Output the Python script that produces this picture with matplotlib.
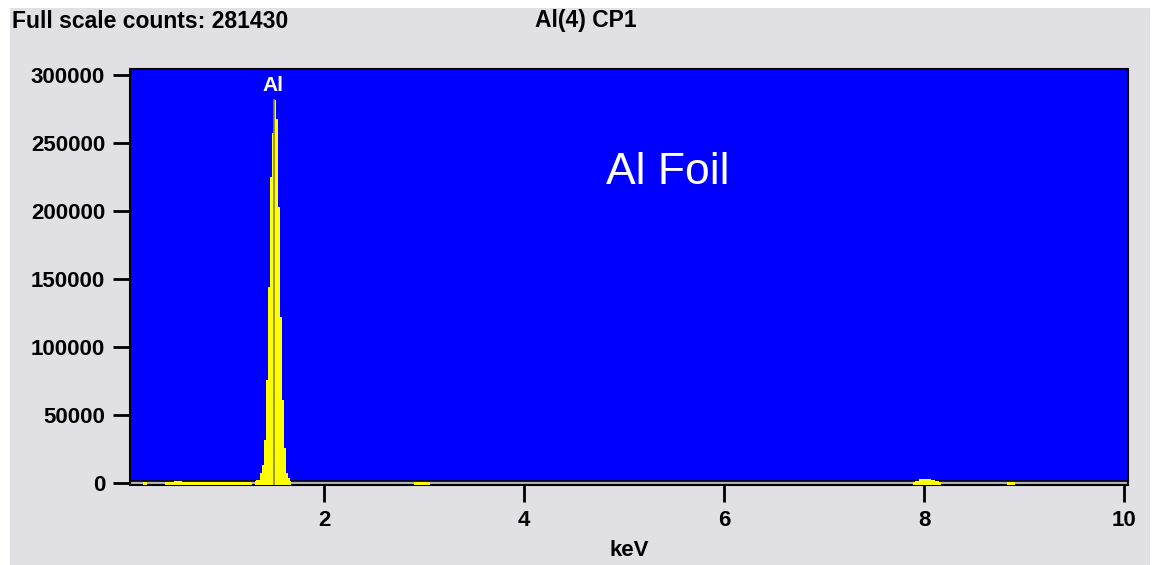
import matplotlib.pyplot as plt
import numpy as np
from matplotlib.patches import Rectangle

# spectrum segments (bin centres in keV, counts)
low_kev = [0.19, 0.21, 0.23]
low_counts = [400, 400, 400]

o_kev = [0.41, 0.45, 0.49, 0.51, 0.53, 0.55, 0.57, 0.59, 0.63, 0.7, 0.8, 0.9, 1.0, 1.1, 1.2, 1.28]
o_counts = [500, 500, 700, 1200, 1800, 1800, 1500, 900, 600, 500, 500, 500, 500, 500, 500, 600]

al_kev = [1.31, 1.33, 1.35, 1.37, 1.39, 1.41, 1.43, 1.45, 1.47, 1.49, 1.51, 1.53,
          1.55, 1.57, 1.59, 1.61, 1.63, 1.65, 1.67]
al_counts = [1500, 2200, 2200, 7400, 13000, 31600, 75700, 144000, 225000, 257000, 281430,
             268000, 203000, 122000, 61000, 26000, 7000, 4000, 1500]

ar_kev = [2.9, 2.94, 2.98, 3.02, 3.06]
ar_counts = [400, 400, 400, 400, 400]

cu_kev = [7.89, 7.93, 7.97, 8.01, 8.05, 8.09, 8.13, 8.17]
cu_counts = [800, 1500, 2800, 3200, 3000, 2400, 1200, 700]

cukb_kev = [8.83, 8.87, 8.91]
cukb_counts = [400, 400, 400]

full_scale = 281430
al_line = 1.495

font = 'Liberation Sans'
ymin = -1470
fig = plt.figure(figsize=(11.56, 5.65), dpi=100)
fig.patches.append(Rectangle((10/1156, 0), 1140/1156, 1 - 8/565, transform=fig.transFigure,
                             facecolor='#e0e0e5', edgecolor='none', zorder=-10))

ax = fig.add_axes([130/1156, 1 - 485/565, 998/1156, 416/565])
ax.set_facecolor('#0000ff')
ax.set_xlim(0.06, 10.04)
ax.set_ylim(ymin, 304400)

# grey baseline strip
ax.axhspan(ymin, 1470, color='#b4b4b4', zorder=1)
ax.axhline(1470, color='black', lw=1.2, zorder=2)

for kev, counts in [(low_kev, low_counts), (o_kev, o_counts), (al_kev, al_counts),
                    (ar_kev, ar_counts), (cu_kev, cu_counts), (cukb_kev, cukb_counts)]:
    ax.fill_between(kev, ymin, counts, step='mid', color='#ffff00', lw=0, zorder=3)

ax.plot([al_line, al_line], [ymin, full_scale], color='#8a8a10', lw=1.2, zorder=4)

ax.text(1.49, 285000, 'Al', color='white', fontsize=15, fontweight='bold', family=font,
        ha='center', va='bottom', zorder=5)
ax.text(5.44, 228500, 'Al Foil', color='white', fontsize=32, family=font,
        ha='center', va='center')

ax.set_yticks(np.arange(0, 300001, 50000))
ax.set_xticks([2, 4, 6, 8, 10])
ax.tick_params(axis='both', direction='out', length=12, width=2, labelsize=16, pad=6)
for lab in ax.get_xticklabels() + ax.get_yticklabels():
    lab.set_fontweight('bold')
    lab.set_family(font)
for s in ax.spines.values():
    s.set_linewidth(1.5)

fig.text(629/1156, 1 - 550/565, 'keV', fontsize=16, fontweight='bold', family=font,
         ha='center', va='center')
fig.text(12/1156, 1 - 21/565, 'Full scale counts: %d' % full_scale, fontsize=16.5, fontweight='bold',
         family=font, va='center', ha='left')
fig.text(535/1156, 1 - 21/565, 'Al(4) CP1', fontsize=16.5, fontweight='bold',
         family=font, va='center', ha='left')

plt.savefig('out.png', dpi=100)
